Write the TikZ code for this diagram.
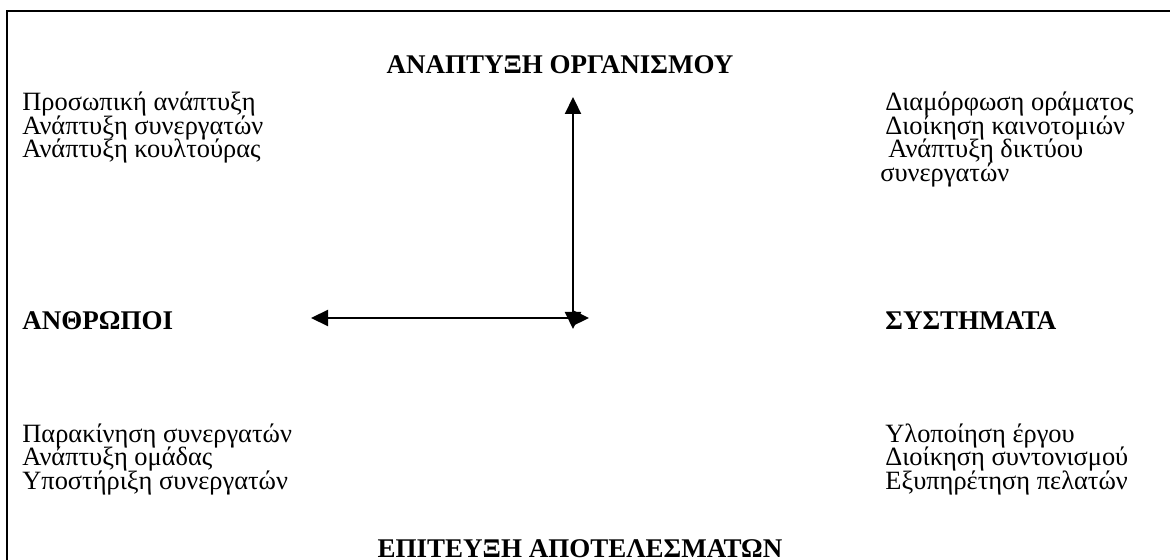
\documentclass[tikz,border=0pt]{standalone}
\usepackage{fontspec}
\setmainfont{Liberation Serif}
\usepackage{tikz}
\usetikzlibrary{arrows.meta}
\tikzset{
  itemtxt/.style={anchor=base west,inner sep=0pt,font=\fontsize{13.2}{16}\selectfont},
  headtxt/.style={anchor=base,inner sep=0pt,font=\fontsize{13.5}{16}\selectfont\bfseries},
  axisline/.style={{Triangle[length=8.5pt,width=8pt]}-{Triangle[length=8.5pt,width=8pt]},line width=1.1pt},
  framline/.style={line width=1.1pt}
}

\begin{document}
\begin{tikzpicture}[x=0.5pt,y=-0.5pt]
\useasboundingbox (0,0) rectangle (1170,560);
\clip (0,0) rectangle (1170,560);
\draw[framline] (1180,11) -- (7,11) -- (7,570);
% headings
\node[headtxt] (org) at (560,74) {ΑΝΑΠΤΥΞΗ ΟΡΓΑΝΙΣΜΟΥ};
\node[headtxt,anchor=base west] (ppl) at (22,330) {ΑΝΘΡΩΠΟΙ};
\node[headtxt,anchor=base west] (sys) at (885,330) {ΣΥΣΤΗΜΑΤΑ};
\node[headtxt] (res) at (580,557) {ΕΠΙΤΕΥΞΗ ΑΠΟΤΕΛΕΣΜΑΤΩΝ};
% upper left
\node[itemtxt] (pu1) at (22,111) {Προσωπική ανάπτυξη};
\node[itemtxt] (pu2) at (22,134.5) {Ανάπτυξη συνεργατών};
\node[itemtxt] (pu3) at (22,158) {Ανάπτυξη κουλτούρας};
% upper right
\node[itemtxt] (su1) at (885,111) {Διαμόρφωση οράματος};
\node[itemtxt] (su2) at (885,134.5) {Διοίκηση καινοτομιών};
\node[itemtxt] (su3) at (888,158) {Ανάπτυξη δικτύου};
\node[itemtxt] (su4) at (880,181.5) {συνεργατών};
% lower left
\node[itemtxt] (pd1) at (22,442) {Παρακίνηση συνεργατών};
\node[itemtxt] (pd2) at (22,465.5) {Ανάπτυξη ομάδας};
\node[itemtxt] (pd3) at (22,489) {Υποστήριξη συνεργατών};
% lower right
\node[itemtxt] (sd1) at (885,442) {Υλοποίηση έργου};
\node[itemtxt] (sd2) at (885,465.5) {Διοίκηση συντονισμού};
\node[itemtxt] (sd3) at (885,489) {Εξυπηρέτηση πελατών};
% axes
\coordinate (vtop) at (573,97);
\coordinate (vbot) at (573,329);
\coordinate (hlft) at (311,318);
\coordinate (hrgt) at (589,318);
\draw[axisline] (vbot) -- (vtop);
\draw[axisline] (hlft) -- (hrgt);
\end{tikzpicture}
\end{document}
